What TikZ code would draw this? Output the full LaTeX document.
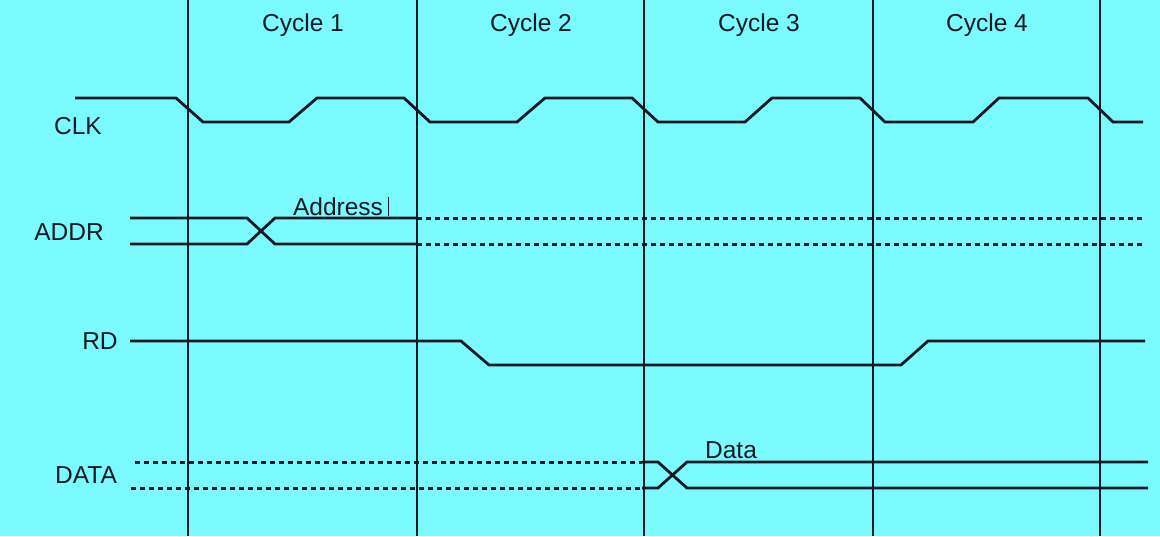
\documentclass[tikz,border=0pt]{standalone}
\usepackage{fontspec}
\setmainfont{Liberation Sans}
\definecolor{bg}{RGB}{122,250,252}
\definecolor{ink}{RGB}{20,25,35}
\begin{document}
\begin{tikzpicture}[x=1pt,y=-1pt,
  sig/.style={line width=2.8pt, draw=ink},
  gridline/.style={line width=1.3pt, draw=ink},
  dots/.style={sig, line width=3pt, dash pattern=on 5pt off 4pt},
  lbl/.style={font=\fontsize{24.5}{28}\selectfont, text=ink, inner sep=0pt}]
\fill[bg] (0,0) rectangle (1160,536);
\useasboundingbox (0,0) rectangle (1160,536);
% cycle boundaries
\foreach \x in {188,417,644,873,1100} \draw[gridline] (\x,0) -- (\x,536);
% cycle labels
\node[lbl] (c1) at (303,25) {Cycle 1};
\node[lbl] (c2) at (531,25) {Cycle 2};
\node[lbl] (c3) at (759,25) {Cycle 3};
\node[lbl] (c4) at (987,25) {Cycle 4};
% signal labels
\node[lbl] (clk) at (78,126) {CLK};
\node[lbl] (addr) at (69,232) {ADDR};
\node[lbl] (rd) at (100,341) {RD};
\node[lbl] (data) at (86,475) {DATA};
\node[lbl] (addrv) at (338,207) {Address};
\draw[ink, line width=0.8pt] (388,197) -- (388,216);
\node[lbl] (datav) at (731,450) {Data};
% CLK
\draw[sig] (75,98) -- (176,98) -- (203,122) -- (289,122) -- (317,98) -- (404,98)
  -- (430,122) -- (517,122) -- (545,98) -- (632,98) -- (658,122) -- (745,122)
  -- (772,98) -- (860,98) -- (885,122) -- (973,122) -- (999,98) -- (1088,98)
  -- (1113,122) -- (1143,122);
% ADDR
\draw[sig] (130,218) -- (247,218) -- (275,244) -- (417,244);
\draw[sig] (130,244) -- (247,244) -- (275,218) -- (417,218);
\draw[dots] (417,218) -- (1145,218);
\draw[dots] (417,244) -- (1145,244);
% RD
\draw[sig] (130,341) -- (461,341) -- (489,365) -- (901,365) -- (928,341) -- (1145,341);
% DATA
\draw[dots] (135,462) -- (642,462);
\draw[dots] (131,488) -- (642,488);
\draw[sig] (642,462) -- (658,462) -- (687,488) -- (1148,488);
\draw[sig] (642,488) -- (658,488) -- (687,462) -- (1148,462);
\end{tikzpicture}
\end{document}
